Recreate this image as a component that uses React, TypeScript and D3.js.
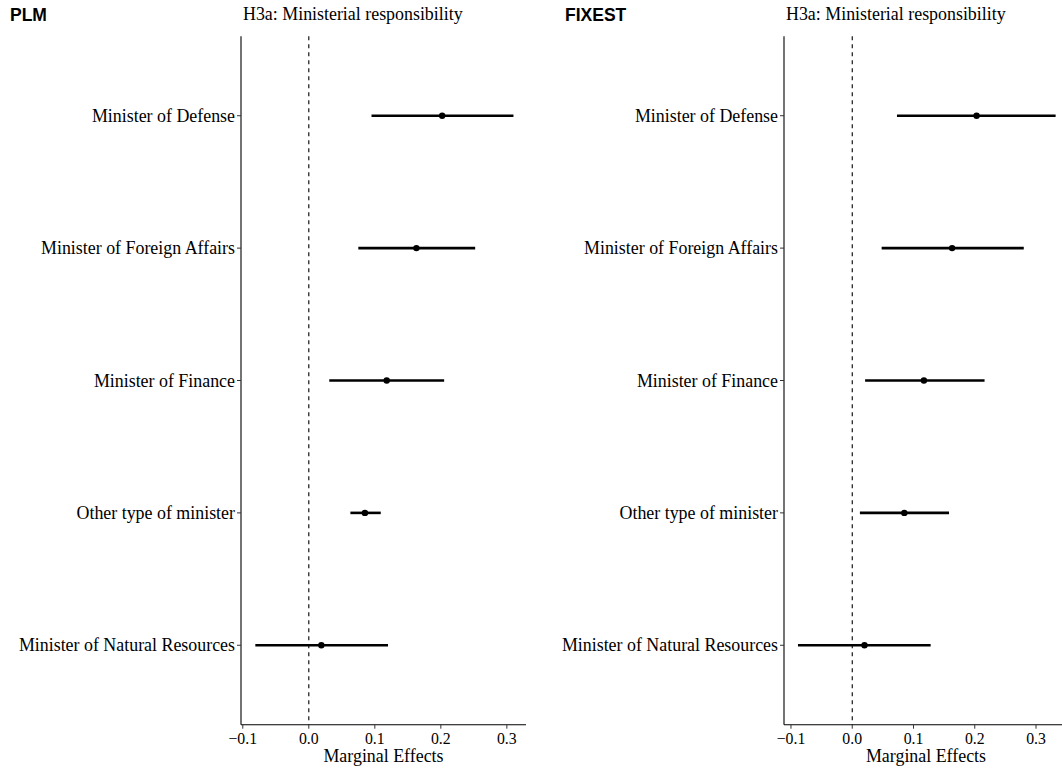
import React from "react";
import * as d3 from "d3";

const categories = [
  "Minister of Defense",
  "Minister of Foreign Affairs",
  "Minister of Finance",
  "Other type of minister",
  "Minister of Natural Resources",
];

const plmEst = [0.202, 0.163, 0.118, 0.085, 0.019];
const plmLo = [0.095, 0.075, 0.031, 0.063, -0.081];
const plmHi = [0.31, 0.252, 0.205, 0.109, 0.12];

const fixEst = [0.203, 0.163, 0.117, 0.085, 0.02];
const fixLo = [0.073, 0.048, 0.021, 0.0125, -0.0886];
const fixHi = [0.332, 0.28, 0.216, 0.158, 0.128];

const xTicks = [-0.1, 0.0, 0.1, 0.2, 0.3];

const W = 1062;
const H = 768;
const SERIF = "'Liberation Serif', 'Times New Roman', serif";
const SANS = "'Liberation Sans', Arial, sans-serif";
const FS = 17.9;
const TFS = 15.8;

type PanelProps = {
  tag: string;
  tagX: number;
  left: number;
  right: number;
  domain: [number, number];
  est: number[];
  lo: number[];
  hi: number[];
};

const TOP = 36.3;
const BOTTOM = 724.7;

function Panel({ tag, tagX, left, right, domain, est, lo, hi }: PanelProps) {
  const x = d3.scaleLinear().domain(domain).range([left, right]);
  const y = d3.scalePoint<string>().domain(categories).range([TOP, BOTTOM]).padding(0.6);
  const cx = (left + right) / 2;
  return (
    <g>
      <text x={tagX} y={21} fontFamily={SANS} fontWeight="bold" fontSize={17.5} fill="#000">
        {tag}
      </text>
      <text x={left + 2} y={20} fontFamily={SERIF} fontSize={FS} fill="#000">
        H3a: Ministerial responsibility
      </text>
      {/* zero line */}
      <line x1={x(0)} x2={x(0)} y1={TOP} y2={BOTTOM} stroke="#000" strokeWidth={1.1} strokeDasharray="4,4" />
      {/* axes */}
      <line x1={left} x2={left} y1={TOP} y2={BOTTOM} stroke="#000" strokeWidth={1.1} />
      <line x1={left} x2={right} y1={BOTTOM} y2={BOTTOM} stroke="#000" strokeWidth={1.1} />
      {categories.map((c) => (
        <g key={c}>
          <line x1={left - 4} x2={left} y1={y(c)} y2={y(c)} stroke="#333" strokeWidth={1} />
          <text x={left - 6} y={(y(c) as number) + 6} textAnchor="end" fontFamily={SERIF} fontSize={FS} fill="#000">
            {c}
          </text>
        </g>
      ))}
      {xTicks.map((t) => (
        <g key={t}>
          <line x1={x(t)} x2={x(t)} y1={BOTTOM} y2={BOTTOM + 4} stroke="#333" strokeWidth={1} />
          <text x={x(t)} y={BOTTOM + 19.5} textAnchor="middle" fontFamily={SERIF} fontSize={TFS} fill="#000">
            {t < 0 ? "\u2212" + Math.abs(t).toFixed(1) : t.toFixed(1)}
          </text>
        </g>
      ))}
      <text x={cx} y={BOTTOM + 37.5} textAnchor="middle" fontFamily={SERIF} fontSize={FS} fill="#000">
        Marginal Effects
      </text>
      {categories.map((c, i) => (
        <g key={"m" + c}>
          <line x1={x(lo[i])} x2={x(hi[i])} y1={y(c)} y2={y(c)} stroke="#000" strokeWidth={2.6} />
          <circle cx={x(est[i])} cy={y(c)} r={3.2} fill="#000" />
        </g>
      ))}
    </g>
  );
}

export default function App() {
  return (
    <svg width={W} height={H} style={{ position: "absolute", left: 0, top: 0, background: "#fff" }}>
      <rect width={W} height={H} fill="#fff" />
      <Panel tag="PLM" tagX={10} left={241} right={526} domain={[-0.1027, 0.329]} est={plmEst} lo={plmLo} hi={plmHi} />
      <Panel tag="FIXEST" tagX={565} left={784} right={1068} domain={[-0.1114, 0.3522]} est={fixEst} lo={fixLo} hi={fixHi} />
    </svg>
  );
}
